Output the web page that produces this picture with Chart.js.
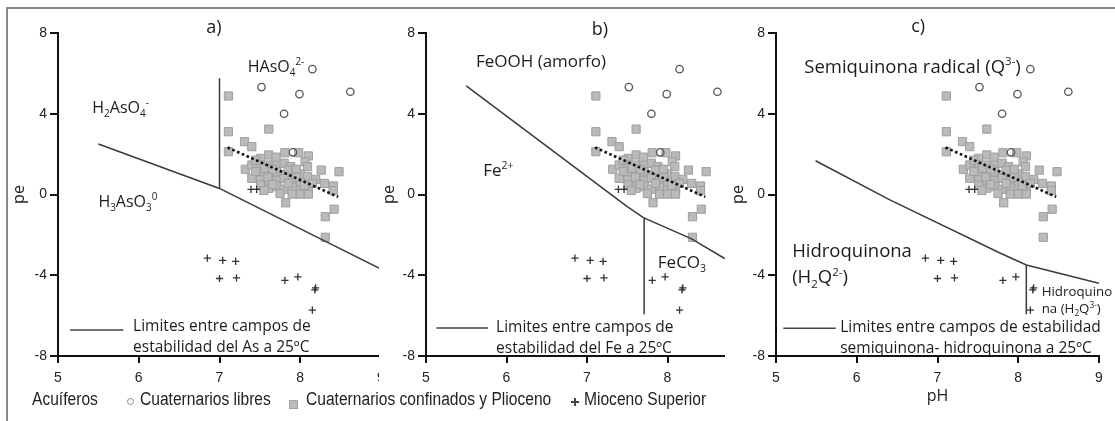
<!DOCTYPE html>
<html>
<head>
<meta charset="utf-8">
<script src="https://cdn.jsdelivr.net/npm/chart.js@4/dist/chart.umd.min.js"></script>
<style>
  html, body { margin: 0; padding: 0; background: #fff; }
  #page { position: relative; width: 1115px; height: 421px; overflow: hidden; background: #fff; }
  #frame { position: absolute; left: 6px; top: 7px; width: 1300px; height: 600px;
           border-left: 2px solid #8a8a8a; border-top: 2px solid #8a8a8a; }
  .panel { position: absolute; top: 0; height: 421px; overflow: hidden; }
  .panel canvas { position: absolute; left: 0; top: 0; }
  #legend { position: absolute; left: 0; top: 0; width: 1115px; height: 421px; pointer-events: none;
            font-family: "Liberation Sans", Arial, sans-serif;
            font-size: 18.8px; line-height: 20px; color: #222; }
  #legend span { position: absolute; white-space: nowrap; transform: scaleX(0.83); transform-origin: 0 0; }
  #legend i { position: absolute; display: block; box-sizing: border-box; }
  .sym-circle { width: 7px; height: 7px; border: 1.5px solid #8a8a8a; border-radius: 50%; background: #fff; }
  .sym-square { width: 9px; height: 9px; border: 1px solid #a3a3a3; background: #bcbcbc; }
  .sym-plus::before, .sym-plus::after { content: ""; position: absolute; background: #444; }
  .sym-plus { width: 8px; height: 8px; }
  .sym-plus::before { left: 0; top: 3.3px; width: 8px; height: 1.4px; }
  .sym-plus::after { left: 3.3px; top: 0; width: 1.4px; height: 8px; }
</style>
</head>
<body>
<div id="page">
  <div id="frame"></div>
  <div class="panel" style="left:0;width:379px"><canvas id="panelA" width="397" height="421"></canvas></div>
  <div class="panel" style="left:379px;width:346px"><canvas id="panelB" width="385" height="421"></canvas></div>
  <div class="panel" style="left:725px;width:390px"><canvas id="panelC" width="390" height="421"></canvas></div>
  <div id="legend"></div>
</div>
<script>
// Axis ticks
const xTickValues = [5, 6, 7, 8, 9];
const yTickValues = [-8, -4, 0, 4, 8];

// Aquifer groups
const legendTitle = 'Acuíferos';
const seriesNames = ['Cuaternarios libres', 'Cuaternarios confinados y Plioceno', 'Mioceno Superior'];

// Cuaternarios libres (pH, pe)
const libresPH = [7.52, 8.15, 7.99, 8.62, 7.80, 7.91];
const libresPE = [5.32, 6.21, 4.97, 5.09, 4.00, 2.09];

// Cuaternarios confinados y Plioceno (pH, pe)
const confinadosPH = [
  7.11, 7.11, 7.61, 7.31, 7.40, 7.11, 7.51, 7.61, 7.81, 7.98, 8.10, 8.06,
  7.32, 7.40, 7.51, 7.60, 7.71, 7.80, 7.88, 8.09, 8.26, 8.48,
  7.51, 7.61, 7.71, 7.80, 7.90, 8.00, 8.09,
  7.40, 7.51, 7.61, 7.71, 7.90, 8.00, 8.19, 8.30, 8.41,
  7.51, 7.61, 7.71, 7.80, 7.90, 8.00, 8.10, 8.41,
  7.90, 8.00, 8.10, 7.82, 8.42, 8.31, 8.31,
  7.45, 7.70, 7.56, 7.66, 7.85, 7.95, 7.45, 7.60, 7.80, 7.95, 7.66, 7.85, 8.05, 7.75, 8.15, 7.55
];
const confinadosPE = [
  4.88, 3.11, 3.24, 2.62, 2.37, 2.12, 1.79, 1.96, 2.07, 2.07, 1.91, 1.62,
  1.25, 1.46, 1.46, 1.46, 1.55, 1.55, 1.38, 1.38, 1.21, 1.13,
  1.05, 1.02, 1.13, 0.97, 1.02, 1.02, 0.88,
  0.80, 0.72, 0.63, 0.68, 0.68, 0.63, 0.75, 0.55, 0.42,
  0.47, 0.31, 0.39, 0.26, 0.36, 0.22, 0.26, 0.19,
  0.02, 0.02, 0.02, -0.41, -0.73, -1.10, -2.12,
  1.70, 1.85, 1.30, 1.25, 1.20, 1.25, 1.15, 0.85, 0.80, 0.85, 0.50, 0.55, 0.45, 0.05, 0.55, 0.20
];

// Mioceno Superior (pH, pe)
const miocenoPH = [6.85, 7.04, 7.20, 7.00, 7.21, 7.81, 7.97, 8.19, 8.18, 8.15, 7.39, 7.46];
const miocenoPE = [-3.15, -3.26, -3.31, -4.16, -4.13, -4.25, -4.08, -4.63, -4.72, -5.73, 0.25, 0.25];

// Trend of the confined group
const trendPH = [7.10, 8.47];
const trendPE = [2.33, -0.12];

// Stability field limits at 25 ºC
const asLinePH = [5.5, 7.0, 7.6, 9.0];
const asLinePE = [2.5, 0.3, -0.9, -3.7];
const asVertPH = [7.0, 7.0];
const asVertPE = [0.3, 5.76];

const feLinePH = [5.5, 7.5, 7.7, 8.3, 8.71];
const feLinePE = [5.38, -0.6, -1.15, -2.2, -3.17];
const feVertPH = [7.71, 7.71];
const feVertPE = [-1.15, -5.93];

const qLinePH = [5.49, 6.41, 7.78, 8.10, 9.0];
const qLinePE = [1.67, -0.27, -2.91, -3.49, -4.40];
const qVertPH = [8.10, 8.10];
const qVertPE = [-3.49, -5.93];

const pts = (xs, ys) => xs.map((v, i) => ({ x: v, y: ys[i] }));

function buildDatasets(limits) {
  return [
    { label: 'tendencia', data: pts(trendPH, trendPE), showLine: true, borderColor: '#111',
      borderWidth: 2.6, borderDash: [2.6, 2.6], borderCapStyle: 'butt', pointRadius: 0, order: 0 },
    ...limits.map(l => ({ label: 'limite', data: pts(l[0], l[1]), showLine: true, borderColor: '#3a3a3a',
      borderWidth: 1.5, pointRadius: 0, tension: 0, order: 1 })),
    { label: seriesNames[0], data: pts(libresPH, libresPE), pointStyle: 'circle', pointRadius: 3.7,
      borderWidth: 1.3, borderColor: '#555', backgroundColor: 'rgba(255,255,255,0)', order: 2 },
    { label: seriesNames[2], data: pts(miocenoPH, miocenoPE), pointStyle: 'cross', pointRadius: 3.6,
      borderWidth: 1.3, borderColor: '#333', backgroundColor: '#333', order: 3 },
    { label: seriesNames[1], data: pts(confinadosPH, confinadosPE), pointStyle: 'rect', pointRadius: 5.8,
      borderWidth: 1, borderColor: '#9e9e9e', backgroundColor: '#bababa', order: 4 }
  ];
}

function buildScales(p) {
  const tickFont = { family: '"Liberation Sans", Arial, sans-serif', size: 14 };
  const grid = { drawOnChartArea: false, drawTicks: true, color: '#111', lineWidth: 2 };
  const border = { display: true, color: '#111', width: 2 };
  return {
    x: {
      type: 'linear', position: 'bottom', min: 5, max: 9,
      afterBuildTicks: s => { s.ticks = xTickValues.map(v => ({ value: v })); },
      afterFit: s => { s.height = 65; },
      grid: { ...grid, tickLength: 7 }, border,
      ticks: { font: tickFont, color: '#222', padding: 7, maxRotation: 0, autoSkip: false },
      title: { display: !!p.xTitle, text: p.xTitle || '', color: '#222',
               font: { family: '"Open Sans", sans-serif', size: 16 }, padding: { top: 0, bottom: 15 } }
    },
    y: {
      type: 'linear', position: 'left', min: -8, max: 8,
      afterBuildTicks: s => { s.ticks = yTickValues.map(v => ({ value: v })); },
      afterFit: s => { s.width = p.yWidth; },
      grid: { ...grid, tickLength: 8 }, border,
      ticks: { font: tickFont, color: '#222', padding: 3, autoSkip: false },
      title: { display: true, text: 'pe', color: '#222',
               font: { family: '"Open Sans", sans-serif', size: 16 }, padding: { top: p.titlePad, bottom: 0 } }
    }
  };
}

// Text with sub- and superscripts, anchored at a baseline point
function drawRich(ctx, x, y, parts, size, align) {
  const fam = '"Open Sans", sans-serif';
  const spec = parts.map(([t, k]) => {
    const s = k === 'n' ? size : size * 0.62;
    ctx.font = s + 'px ' + fam;
    return { t, k, s, w: ctx.measureText(t).width };
  });
  const total = spec.reduce((a, q) => a + q.w, 0);
  let cx = align === 'center' ? x - total / 2 : x;
  ctx.textAlign = 'left';
  ctx.textBaseline = 'alphabetic';
  spec.forEach(q => {
    ctx.font = q.s + 'px ' + fam;
    const dy = q.k === 'sub' ? size * 0.24 : (q.k === 'sup' ? -size * 0.42 : 0);
    ctx.fillText(q.t, cx, y + dy);
    cx += q.w;
  });
}

const panelText = {
  id: 'panelText',
  afterDatasetsDraw(chart, args, opts) {
    const { ctx } = chart;
    const sx = chart.scales.x, sy = chart.scales.y;
    ctx.save();
    ctx.fillStyle = '#1c1c1c';
    (opts.labels || []).forEach(l => {
      drawRich(ctx, sx.getPixelForValue(l.at[0]), sy.getPixelForValue(l.at[1]), l.parts, l.size, l.align);
    });
    if (opts.key) {
      const k = opts.key;
      const yk = sy.getPixelForValue(k.lineAt[2]);
      ctx.strokeStyle = '#444';
      ctx.lineWidth = 1.5;
      ctx.beginPath();
      ctx.moveTo(sx.getPixelForValue(k.lineAt[0]), yk);
      ctx.lineTo(sx.getPixelForValue(k.lineAt[1]), yk);
      ctx.stroke();
      k.lines.forEach((txt, i) => {
        drawRich(ctx, sx.getPixelForValue(k.textAt[0]), sy.getPixelForValue(k.textAt[1 + i]),
                 [[txt, 'n']], k.size, 'left');
      });
    }
    ctx.restore();
  }
};

function makePanel(id, p) {
  return new Chart(document.getElementById(id), {
    type: 'scatter',
    data: { datasets: buildDatasets(p.limits) },
    options: {
      responsive: false, animation: false, devicePixelRatio: 1, events: [],
      layout: { padding: { left: 0, top: 33, right: 16, bottom: 0 } },
      scales: buildScales(p),
      plugins: {
        legend: { display: false }, tooltip: { enabled: false },
        panelText: { labels: p.labels, key: p.key }
      }
    },
    plugins: [panelText]
  });
}

makePanel('panelA', {
  yWidth: 58, titlePad: 9.4,
  limits: [[asLinePH, asLinePE], [asVertPH, asVertPE]],
  labels: [
    { at: [6.93, 8.0], size: 18, align: 'center', parts: [['a)', 'n']] },
    { at: [7.35, 6.07], size: 16, parts: [['HAsO', 'n'], ['4', 'sub'], ['2-', 'sup']] },
    { at: [5.425, 4.04], size: 16, parts: [['H', 'n'], ['2', 'sub'], ['AsO', 'n'], ['4', 'sub'], ['-', 'sup']] },
    { at: [5.50, -0.62], size: 16, parts: [['H', 'n'], ['3', 'sub'], ['AsO', 'n'], ['3', 'sub'], ['0', 'sup']] }
  ],
  key: { lineAt: [5.15, 5.81, -6.71], textAt: [5.93, -6.76, -7.79], size: 15.5,
         lines: ['Limites entre campos de', 'estabilidad del As a 25ºC'] }
});

makePanel('panelB', {
  yWidth: 47, titlePad: 0.4,
  limits: [[feLinePH, feLinePE], [feVertPH, feVertPE]],
  labels: [
    { at: [7.16, 7.9], size: 18, align: 'center', parts: [['b)', 'n']] },
    { at: [5.62, 6.33], size: 17, parts: [['FeOOH (amorfo)', 'n']] },
    { at: [5.71, 0.93], size: 17, parts: [['Fe', 'n'], ['2+', 'sup']] },
    { at: [7.88, -3.66], size: 17, parts: [['FeCO', 'n'], ['3', 'sub']] }
  ],
  key: { lineAt: [5.13, 5.77, -6.61], textAt: [5.87, -6.81, -7.87], size: 15.5,
         lines: ['Limites entre campos de', 'estabilidad del Fe a 25ºC'] }
});

makePanel('panelC', {
  yWidth: 51, titlePad: 3.9, xTitle: 'pH',
  limits: [[qLinePH, qLinePE], [qVertPH, qVertPE]],
  labels: [
    { at: [6.76, 8.06], size: 18, align: 'center', parts: [['c)', 'n']] },
    { at: [5.35, 6.03], size: 18.5, parts: [['Semiquinona radical (Q', 'n'], ['3-', 'sup'], [')', 'n']] },
    { at: [5.20, -3.11], size: 18.5, parts: [['Hidroquinona', 'n']] },
    { at: [5.20, -4.40], size: 18.5, parts: [['(H', 'n'], ['2', 'sub'], ['Q', 'n'], ['2-', 'sup'], [')', 'n']] },
    { at: [8.29, -5.03], size: 13.3, parts: [['Hidroquino', 'n']] },
    { at: [8.29, -5.88], size: 13.3, parts: [['na (H', 'n'], ['2', 'sub'], ['Q', 'n'], ['3-', 'sup'], [')', 'n']] }
  ],
  key: { lineAt: [5.09, 5.74, -6.62], textAt: [5.795, -6.80, -7.87], size: 15.5,
         lines: ['Limites entre campos de estabilidad', 'semiquinona- hidroquinona a 25ºC'] }
});

// Group key along the bottom
(function () {
  const box = document.getElementById('legend');
  const items = [
    ['span', legendTitle, 32, 388.5],
    ['i', 'sym-circle', 127, 397.5],
    ['span', seriesNames[0], 140, 388.5],
    ['i', 'sym-square', 288.5, 399.5],
    ['span', seriesNames[1], 306, 388.5],
    ['i', 'sym-plus', 571, 398],
    ['span', seriesNames[2], 584, 388.5]
  ];
  items.forEach(([tag, v, left, top]) => {
    const el = document.createElement(tag);
    if (tag === 'span') el.textContent = v; else el.className = v;
    el.style.left = left + 'px';
    el.style.top = top + 'px';
    box.appendChild(el);
  });
})();
</script>
</body>
</html>
